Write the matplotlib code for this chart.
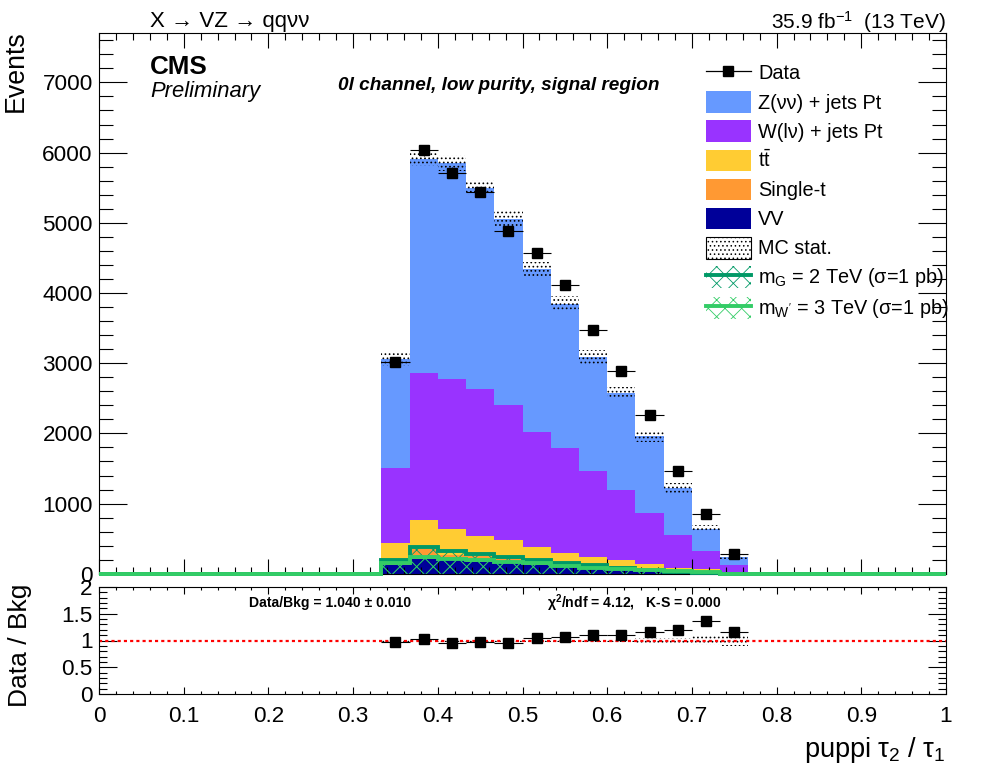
import numpy as np
import matplotlib
matplotlib.use("Agg")
import matplotlib.pyplot as plt
from matplotlib.lines import Line2D
from matplotlib.patches import Patch
from matplotlib.ticker import MultipleLocator, FormatStrFormatter

plt.rcParams["font.family"] = ["Liberation Sans", "DejaVu Sans"]
plt.rcParams["mathtext.fontset"] = "custom"
plt.rcParams["mathtext.rm"] = "Liberation Sans"
plt.rcParams["mathtext.it"] = "Liberation Sans:italic"
plt.rcParams["mathtext.bf"] = "Liberation Sans:bold"
plt.rcParams["mathtext.default"] = "regular"

DOT_LW = 0.7
CROSS_LW = 0.6

# =========================
# DATA (stacked tops, bins 0.333 - 0.767)
# =========================

n_bins = 30
first_bin = 10

top_zjets = [3063, 5910, 5855, 5500, 5057, 4345, 3846, 3091, 2578, 1966, 1225, 641, 242]
top_wjets = [1510, 2863, 2778, 2635, 2407, 2023, 1795, 1467, 1197, 869, 555, 320, 120]
top_ttbar = [442, 769, 641, 541, 484, 385, 299, 242, 199, 142, 85, 71, 30]
top_singlet = [199, 356, 270, 256, 228, 214, 157, 114, 100, 70, 40, 25, 10]
top_vv = [128, 214, 199, 171, 157, 128, 114, 85, 57, 43, 20, 10, 5]

data_values = [3020, 6035, 5715, 5440, 4880, 4570, 4117, 3476, 2892, 2265, 1467, 855, 285]
data_errors = [55, 78, 76, 74, 70, 68, 64, 59, 54, 48, 38, 29, 17]
mc_errors = [100, 105, 110, 105, 105, 100, 105, 100, 90, 85, 67, 52, 25]

signal_g = [199, 385, 328, 285, 242, 199, 157, 130, 85, 60, 30, 15, 0]
signal_w = [157, 242, 214, 199, 171, 157, 114, 85, 71, 55, 43, 30, 0]

ratio_values = [0.97, 1.02, 0.96, 0.98, 0.96, 1.05, 1.06, 1.10, 1.10, 1.15, 1.20, 1.36, 1.16]

x_ticks_main = [0, 0.1, 0.2, 0.3, 0.4, 0.5, 0.6, 0.7, 0.8, 0.9, 1]

color_z = "#6699FF"
color_w = "#9933FF"
color_tt = "#FFCC33"
color_st = "#FF9933"
color_vv = "#000099"
color_sig_g = "#009966"
color_sig_w = "#33CC66"


def full_hist(values):
    out = np.zeros(n_bins)
    out[first_bin:first_bin + len(values)] = values
    return out


edges = np.linspace(0, 1, n_bins + 1)
centers = 0.5 * (edges[:-1] + edges[1:])[first_bin:first_bin + len(data_values)]
half_width = 0.5 / n_bins

mc_total = full_hist(top_zjets)
mc_err = full_hist(mc_errors)

# =========================
# FIGURE
# =========================

W, H = 996, 772
fig = plt.figure(figsize=(W / 100, H / 100), dpi=100)
left, right = 99.0 / W, 946.0 / W
ax = fig.add_axes([left, 1 - 573.8 / H, right - left, (573.8 - 33) / H])
rax = fig.add_axes([left, 1 - 694 / H, right - left, (694 - 587) / H])

# =========================
# MAIN PANEL
# =========================

for tops, col in [(top_zjets, color_z), (top_wjets, color_w), (top_ttbar, color_tt),
                  (top_singlet, color_st), (top_vv, color_vv)]:
    ax.stairs(full_hist(tops), edges, fill=True, color=col, zorder=1)

plt.rcParams["hatch.linewidth"] = DOT_LW
ax.stairs(mc_total + mc_err, edges, baseline=mc_total - mc_err, fill=True,
          facecolor="none", edgecolor="black", hatch="....", linewidth=0, zorder=1.5)

plt.rcParams["hatch.linewidth"] = CROSS_LW
for sig, col in [(signal_g, color_sig_g), (signal_w, color_sig_w)]:
    ax.stairs(full_hist(sig), edges, fill=True, facecolor="none", edgecolor=col,
              hatch="xx", linewidth=0, zorder=1.6)
    ax.stairs(full_hist(sig), edges, baseline=None, color=col, linewidth=2.8,
              zorder=3, clip_on=False)

ax.errorbar(centers, data_values, xerr=half_width, yerr=data_errors, fmt="s",
            color="black", ms=7.2, elinewidth=0.8, capsize=0, zorder=4)

ax.set_xlim(0, 1)
ax.set_ylim(0, 7704)
ax.xaxis.set_major_locator(MultipleLocator(0.1))
ax.xaxis.set_minor_locator(MultipleLocator(0.02))
ax.yaxis.set_major_locator(MultipleLocator(1000))
ax.yaxis.set_minor_locator(MultipleLocator(200))
ax.tick_params(axis="both", which="both", direction="in", top=True, right=True, width=0.8)
ax.tick_params(axis="x", which="major", length=10.5, labelbottom=False)
ax.tick_params(axis="x", which="minor", length=5.2)
ax.tick_params(axis="y", which="major", length=20, labelsize=16.2, pad=4.5)
ax.tick_params(axis="y", which="minor", length=10)

# =========================
# LEGEND
# =========================

plt.rcParams["hatch.linewidth"] = DOT_LW
stat_handle = Patch(facecolor="white", edgecolor="black", hatch="....", linewidth=0.8)
plt.rcParams["hatch.linewidth"] = CROSS_LW
handles = [
    Line2D([], [], color="black", marker="s", ms=7.2, lw=0.9),
    Patch(facecolor=color_z),
    Patch(facecolor=color_w),
    Patch(facecolor=color_tt),
    Patch(facecolor=color_st),
    Patch(facecolor=color_vv),
    stat_handle,
    (Patch(facecolor="none", edgecolor=color_sig_g, hatch="xx", linewidth=0),
     Line2D([], [], color=color_sig_g, lw=2.8)),
    (Patch(facecolor="none", edgecolor=color_sig_w, hatch="xx", linewidth=0),
     Line2D([], [], color=color_sig_w, lw=2.8)),
]
labels = [
    "Data",
    "Z(νν) + jets Pt",
    "W(lν) + jets Pt",
    r"t$\bar{t}$",
    "Single-t",
    "VV",
    "MC stat.",
    r"m$_{G}$ = 2 TeV (σ=1 pb)",
    r"m$_{W'}$ = 3 TeV (σ=1 pb)",
]
ax.legend(handles, labels, loc="upper left", bbox_to_anchor=(706 / W, 1 - 62 / H),
          bbox_transform=fig.transFigure, frameon=False, fontsize=14.3, borderpad=0,
          borderaxespad=0, handlelength=2.25, handleheight=1.3, handletextpad=0.38,
          labelspacing=0.375)

# =========================
# TEXT
# =========================

fig.text(150 / W, 1 - 22 / H, "X → VZ → qqνν", fontsize=16, va="center")
fig.text(946 / W, 1 - 22 / H, r"35.9 fb$^{-1}$  (13 TeV)", fontsize=15, va="center", ha="right")
fig.text(150 / W, 1 - 67 / H, "CMS", fontsize=18.7, fontweight="bold", va="center")
fig.text(150 / W, 1 - 92 / H, "Preliminary", fontsize=15.8, fontstyle="italic", va="center")
fig.text(338 / W, 1 - 86 / H, "0l channel, low purity, signal region", fontsize=13.7,
         fontweight="bold", fontstyle="italic", va="center")
fig.text(16 / W, 1 - 30 / H, "Events", fontsize=19.3, rotation=90, va="top", ha="center")
fig.text(20 / W, 1 - 645 / H, "Data / Bkg", fontsize=19, rotation=90, va="center", ha="center")
fig.text(946 / W, 1 - 750 / H, r"puppi $\tau_{2}$ / $\tau_{1}$", fontsize=19.5, va="center", ha="right")
fig.text(249 / W, 1 - 603 / H, "Data/Bkg = 1.040 ± 0.010", fontsize=10.1, fontweight="bold", va="center")
fig.text(547 / W, 1 - 603 / H, r"$\chi^{2}$/ndf = 4.12,   K-S = 0.000", fontsize=10.1,
         fontweight="bold", va="center")

# =========================
# RATIO PANEL
# =========================

rel_err = np.divide(mc_err, mc_total, out=np.zeros(n_bins), where=mc_total > 0)
plt.rcParams["hatch.linewidth"] = DOT_LW
rax.stairs(1 + rel_err, edges, baseline=1 - rel_err, fill=True, facecolor="none",
           edgecolor="black", hatch="....", linewidth=0, zorder=1)
rax.axhline(1, color="red", lw=1.6, ls=(0, (1.4, 1.4)), zorder=2)
rax.errorbar(centers, ratio_values, xerr=half_width, fmt="s", color="black", ms=7.2,
             elinewidth=0.8, capsize=0, zorder=3)

rax.set_xlim(0, 1)
rax.set_ylim(0, 2)
rax.set_xticks(x_ticks_main)
rax.xaxis.set_major_formatter(FormatStrFormatter("%g"))
rax.xaxis.set_minor_locator(MultipleLocator(0.02))
rax.yaxis.set_major_locator(MultipleLocator(0.5))
rax.yaxis.set_major_formatter(FormatStrFormatter("%g"))
rax.yaxis.set_minor_locator(MultipleLocator(0.1))
rax.tick_params(axis="both", which="both", direction="in", top=True, right=True, width=0.8)
rax.tick_params(axis="x", which="major", length=5, labelsize=16.2, pad=8.5)
rax.tick_params(axis="x", which="minor", length=2.5)
rax.tick_params(axis="y", which="major", length=13, labelsize=16.2, pad=4.5)
rax.tick_params(axis="y", which="minor", length=6)

fig.savefig("out.png", dpi=100)
